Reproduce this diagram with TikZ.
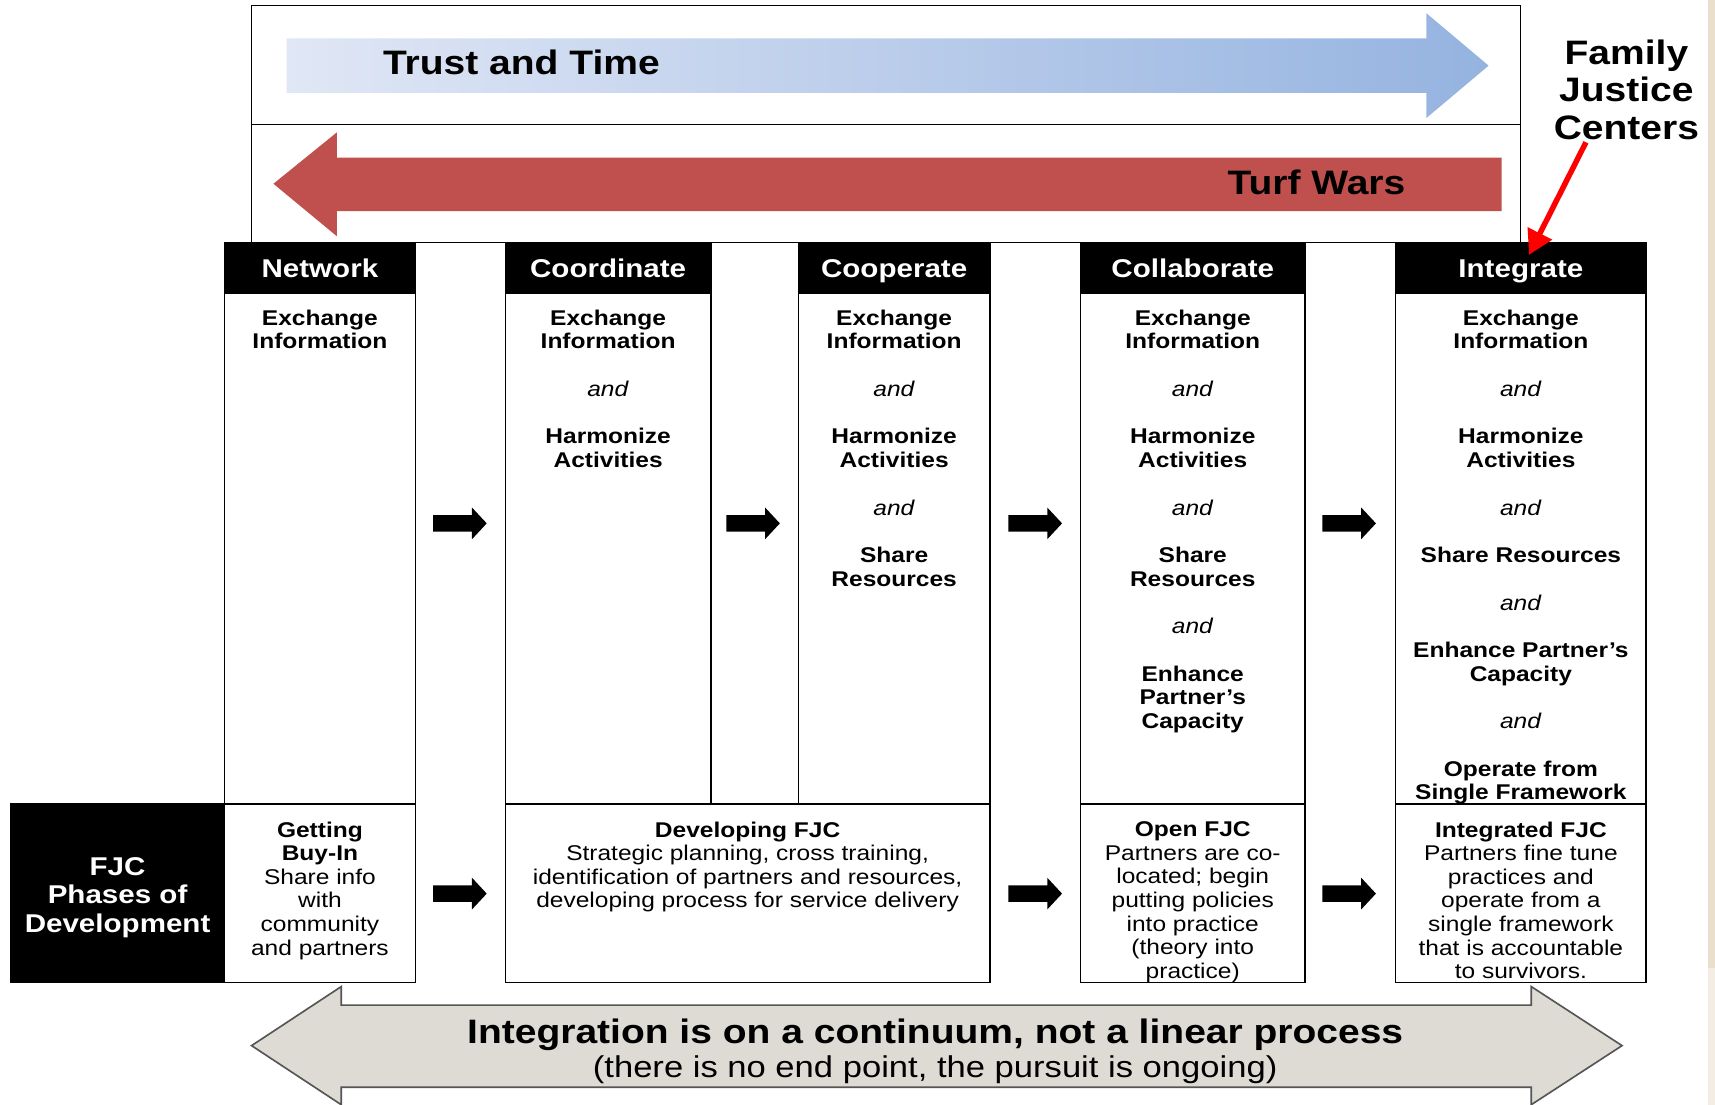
\documentclass[tikz,border=0pt]{standalone}
\usepackage{fontspec}
\setmainfont{Liberation Sans}[FakeStretch=1.15]
\usetikzlibrary{arrows.meta}
\definecolor{turf}{HTML}{C0504D}
\definecolor{trustL}{HTML}{E0E7F5}
\definecolor{trustR}{HTML}{95B3E0}
\definecolor{contfill}{HTML}{DEDBD5}
\definecolor{contline}{HTML}{555555}
\definecolor{stripA}{HTML}{EADFCC}
\definecolor{stripB}{HTML}{F4EDE3}
\newcommand{\fs}[2]{\fontsize{#1}{#2}\selectfont}
% block arrow: #1 = tail x, #2 = centre y
\newcommand{\blkarrow}[2]{%
  \fill[black] (#1,#2-7.5) -- (#1+35.5,#2-7.5) -- (#1+35.5,#2-14.5) -- (#1+49,#2)
    -- (#1+35.5,#2+14.5) -- (#1+35.5,#2+7.5) -- (#1,#2+7.5) -- cycle;}
\begin{document}
\begin{tikzpicture}[x=1pt,y=-1pt,
  grid/.style={draw=black, line width=1.2pt},
  box/.style={grid, anchor=north west, inner sep=0pt, outer sep=0pt},
  head/.style={box, fill=black, text=white, font=\bfseries\fs{23.5}{26}, minimum height=46pt,
    text height=17.2pt, text depth=0pt},
  body/.style={anchor=north, align=center, inner sep=0pt, font=\bfseries\fs{19.5}{21.7}},
  low/.style={anchor=north, align=center, inner sep=0pt, font=\fs{19.5}{21.6}},
  big/.style={font=\bfseries\fs{31}{34.5}, inner sep=0pt},
]
\useasboundingbox (0,0) rectangle (1568,1010);
\fill[white] (0,0) rectangle (1568,1010);
% right edge strip
\fill[stripA] (1562,0) rectangle (1568,885);
\fill[stripB] (1562,885) rectangle (1568,1010);

% ---- top box with trust / turf arrows
\node[box, minimum width=1160pt, minimum height=217pt] (topbox) at (230,5) {};
\draw[grid] ([yshift=-109pt]topbox.north west) -- ([yshift=-109pt]topbox.north east);
\shade[left color=trustL, right color=trustR]
  (262,35) -- (1304,35) -- (1304,12) -- (1361,60) -- (1304,108) -- (1304,85) -- (262,85) -- cycle;
\node[big, anchor=base west] (trust) at (350,68) {Trust and Time};
\fill[turf] (250,168) -- (308,121) -- (308,144) -- (1373,144) -- (1373,193) -- (308,193) -- (308,216) -- cycle;
\node[big, anchor=base east] (turfw) at (1285,178) {Turf Wars};

% ---- Family Justice Centers label
\node[big, align=center] (fam) at (1487,82) {Family\\Justice\\Centers};
\coordinate (redtip) at (1398,233);

% ---- headers
\node[head, minimum width=175pt] (hnet) at (205,222) {Network};
\node[head, minimum width=188pt] (hcoo) at (462,222) {Coordinate};
\node[head, minimum width=175pt] (hcop) at (730,222) {Cooperate};
\node[head, minimum width=205pt] (hcol) at (988,222) {Collaborate};
\node[head, minimum width=229pt] (hint) at (1276,222) {Integrate};

% ---- column bodies
\node[box, minimum width=175pt, minimum height=467pt] (bnet) at (205,268) {};
\node[box, minimum width=188pt, minimum height=467pt] (bcoo) at (462,268) {};
\node[box, minimum width=175pt, minimum height=467pt] (bcop) at (730,268) {};
\node[box, minimum width=205pt, minimum height=467pt] (bcol) at (988,268) {};
\node[box, minimum width=229pt, minimum height=467pt] (bint) at (1276,268) {};

\node[body] (tnet) at ([yshift=-15pt]bnet.north) {Exchange\\Information};
\node[body] (tcoo) at ([yshift=-15pt]bcoo.north) {Exchange\\Information\\[21.7pt]
  \textit{\mdseries and}\\[21.7pt]Harmonize\\Activities};
\node[body] (tcop) at ([yshift=-15pt]bcop.north) {Exchange\\Information\\[21.7pt]
  \textit{\mdseries and}\\[21.7pt]Harmonize\\Activities\\[21.7pt]
  \textit{\mdseries and}\\[21.7pt]Share\\Resources};
\node[body] (tcol) at ([yshift=-15pt]bcol.north) {Exchange\\Information\\[21.7pt]
  \textit{\mdseries and}\\[21.7pt]Harmonize\\Activities\\[21.7pt]
  \textit{\mdseries and}\\[21.7pt]Share\\Resources\\[21.7pt]
  \textit{\mdseries and}\\[21.7pt]Enhance\\Partner’s\\Capacity};
\node[body] (tint) at ([yshift=-15pt]bint.north) {Exchange\\Information\\[21.7pt]
  \textit{\mdseries and}\\[21.7pt]Harmonize\\Activities\\[21.7pt]
  \textit{\mdseries and}\\[21.7pt]Share Resources\\[21.7pt]
  \textit{\mdseries and}\\[21.7pt]Enhance Partner’s\\Capacity\\[21.7pt]
  \textit{\mdseries and}\\[21.7pt]Operate from\\Single Framework};

% ---- phases row
\node[box, fill=black, minimum width=195pt, minimum height=163pt] (fjc) at (10,735) {};
\node[align=center, text=white, font=\bfseries\fs{23.5}{26}, inner sep=0pt]
  (fjctxt) at ([yshift=-4pt]fjc.center) {FJC\\Phases of\\Development};
\node[box, minimum width=175pt, minimum height=163pt] (pnet) at (205,735) {};
\node[box, minimum width=443pt, minimum height=163pt] (pdev) at (462,735) {};
\node[box, minimum width=205pt, minimum height=163pt] (popen) at (988,735) {};
\node[box, minimum width=229pt, minimum height=163pt] (pint) at (1276,735) {};

\node[low] (lnet) at ([yshift=-16pt]pnet.north) {\textbf{Getting}\\\textbf{Buy-In}\\Share info\\with\\community\\and partners};
\node[low] (ldev) at ([yshift=-16pt]pdev.north) {\textbf{Developing FJC}\\Strategic planning, cross training,\\identification of partners and resources,\\developing process for service delivery};
\node[low] (lopen) at ([yshift=-16pt]popen.north) {\textbf{Open FJC}\\Partners are co-\\located; begin\\putting policies\\into practice\\(theory into\\practice)};
\node[low] (lint) at ([yshift=-16pt]pint.north) {\textbf{Integrated FJC}\\Partners fine tune\\practices and\\operate from a\\single framework\\that is accountable\\to survivors.};

% ---- block arrows between stages
\blkarrow{396}{478.5}
\blkarrow{664}{478.5}
\blkarrow{922}{478.5}
\blkarrow{1209}{478.5}
\blkarrow{396}{817}
\blkarrow{922}{817}
\blkarrow{1209}{817}

% ---- red pointer
\draw[red, line width=5pt, -{Triangle[length=22pt,width=24pt]}] ([xshift=-37pt,yshift=-2pt]fam.south) -- (redtip);

% ---- continuum double arrow
\draw[contline, fill=contfill, line width=1.5pt, line join=miter]
  (230,956) -- (312,902) -- (312,919) -- (1400,919) -- (1400,902) -- (1483,956)
  -- (1400,1010) -- (1400,994) -- (312,994) -- (312,1010) -- cycle;
\node[font=\bfseries\fs{31}{34}, inner sep=0pt, anchor=base] (ct1) at (855,954) {Integration is on a continuum, not a linear process};
\node[font=\fs{27.5}{30}, inner sep=0pt, anchor=base] (ct2) at (855,985) {(there is no end point, the pursuit is ongoing)};
\end{tikzpicture}
\end{document}
